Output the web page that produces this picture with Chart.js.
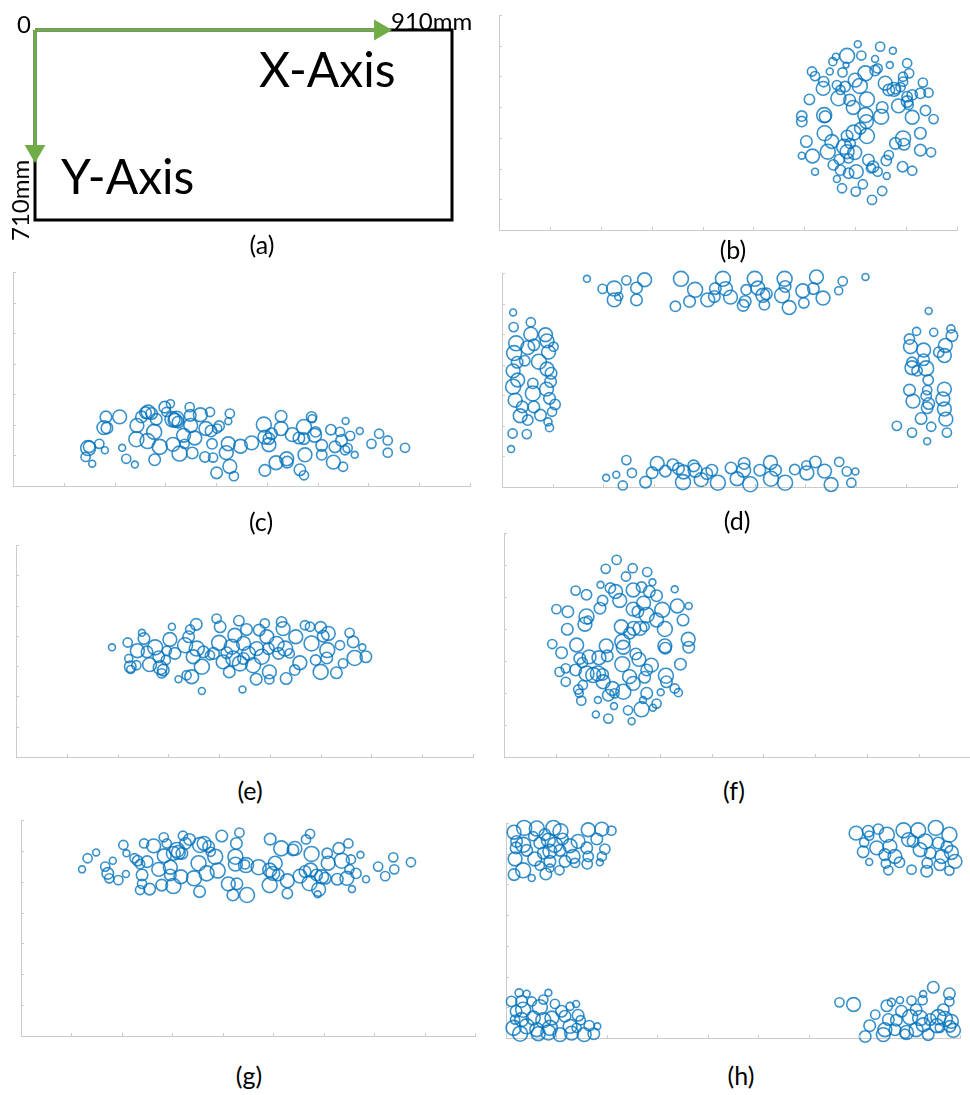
<!DOCTYPE html>
<html>
<head>
<meta charset="utf-8">
<title>Board positions (a)–(h)</title>
<script src="https://cdn.jsdelivr.net/npm/chart.js@4.4.1/dist/chart.umd.min.js"></script>
<style>
  html, body { margin: 0; padding: 0; background: #fff; }
  body { position: relative; width: 970px; height: 1095px; overflow: hidden; font-family: Lato, "Open Sans", sans-serif; color: #000; }
  canvas { position: absolute; }
  .txt { position: absolute; white-space: nowrap; line-height: 1; }
  .cap { position: absolute; width: 100px; text-align: center; font-size: 25px; line-height: 25px; }
</style>
</head>
<body>

<!-- (a) board diagram -->
<canvas id="pa" width="480" height="260" style="left:0px;top:0px"></canvas>
<div class="txt" style="left:17px;top:12px;font-size:24px">0</div>
<div class="txt" style="left:391px;top:9px;font-size:24px">910mm</div>
<div class="txt" style="left:259px;top:45px;font-size:48px">X-Axis</div>
<div class="txt" style="left:61px;top:152px;font-size:48px">Y-Axis</div>
<div class="txt" style="left:8px;top:241px;font-size:24px;transform:rotate(-90deg);transform-origin:0 0">710mm</div>

<!-- (b)–(h) bubble panels -->
<canvas id="pb" width="478" height="235" style="left:489px;top:5px"></canvas>
<canvas id="pc" width="477" height="234" style="left:3px;top:262px"></canvas>
<canvas id="pd" width="475" height="234" style="left:492px;top:263px"></canvas>
<canvas id="pe" width="477" height="232" style="left:6px;top:535px"></canvas>
<canvas id="pf" width="487" height="244" style="left:494px;top:523px"></canvas>
<canvas id="pg" width="474" height="236" style="left:11px;top:810px"></canvas>
<canvas id="ph" width="474" height="235" style="left:496px;top:813px"></canvas>

<div class="cap" style="left:212px;top:232px">(a)</div>
<div class="cap" style="left:683px;top:237px">(b)</div>
<div class="cap" style="left:211px;top:509px">(c)</div>
<div class="cap" style="left:687px;top:508px">(d)</div>
<div class="cap" style="left:200px;top:778px">(e)</div>
<div class="cap" style="left:684px;top:778px">(f)</div>
<div class="cap" style="left:199px;top:1063px">(g)</div>
<div class="cap" style="left:691px;top:1063px">(h)</div>

<script>
// Board size in mm (diagram a)
const BOARD_W = 910;
const BOARD_H = 710;
// Length of the drawn axis arrows along each edge, in mm
const ARROW_X_END = 753;
const ARROW_Y_END = 452;

// Axis ticks shared by the bubble panels (mm)
const X_TICKS = [0, 100, 200, 300, 400, 500, 600, 700, 800, 900];
const Y_TICKS = [0, 100, 200, 300, 400, 500, 600, 700];

// (b) cluster at the right
const bX = [705,749,774,662,684,712,739,656,768,802,682,615,621,650,675,720,739,744,794,806,638,637,664,700,709,759,776,789,794,833,844,610,671,680,667,689,723,766,779,802,812,828,696,753,785,802,805,838,595,595,639,641,720,722,751,812,854,710,697,640,723,684,828,604,654,678,690,779,794,796,646,684,699,828,849,595,616,657,669,687,726,761,766,735,744,793,812,621,671,687,702,762,664,674,715,701,753,733,731];
const bY = [605,597,584,564,567,568,557,548,537,543,537,516,501,516,513,510,519,526,499,510,483,461,472,488,469,478,458,465,483,480,447,425,456,467,429,423,425,456,458,434,440,445,399,399,404,418,407,389,371,353,374,369,374,353,369,367,361,331,317,315,306,306,315,288,288,271,282,282,298,279,255,255,252,260,253,242,241,212,230,233,228,226,244,206,190,206,193,190,195,185,190,176,166,136,149,125,127,98,201];
const bR = [3,4,3,3,6.5,4,3,3.5,3,4,2.5,4,4,3,4,6.5,4.5,4,4,4,4.5,6,4,6,6.5,6,6,4,4,4,4,4.5,4,4.5,6.5,5,6.5,5,4,4.5,4.5,4.5,6,5,6,5,4,4.5,4.5,4.5,6.5,5,6.5,6,6.5,6,4,5,6.5,6.5,6.5,5,5,5,6,6.5,4.5,5,6.5,5,6.5,6,6,5,4,3,6,4.5,4.5,4,5,4.5,4,5,4,4.5,4,3,4.5,4.5,6,3,3,4,4,4,4,4,4];

// (c) band along the bottom
const cX = [143,148,150,156,170,181,183,179,185,210,215,223,240,243,244,253,261,266,273,265,278,279,282,289,299,302,310,314,319,322,325,315,328,336,338,348,349,350,353,358,369,378,380,388,390,392,394,402,406,401,424,427,424,420,427,435,448,470,494,496,496,504,504,509,518,528,528,539,540,550,563,565,573,573,575,573,588,589,594,596,608,608,626,631,634,644,647,650,654,655,664,673,683,706,721,738,738,772,659];
const cY = [95,124,128,73,138,117,226,191,190,226,125,89,70,153,198,226,240,242,237,147,177,86,218,128,258,242,269,218,215,220,209,136,106,166,138,258,231,198,108,157,233,95,188,242,180,138,93,188,196,43,212,237,138,109,64,32,130,141,201,160,51,135,155,171,76,188,228,89,78,168,157,53,35,193,102,155,226,220,166,177,133,102,184,78,128,177,149,63,117,213,164,102,180,138,171,149,109,125,124];
const cR = [4,6.5,5,3,4,3,5,6,5,6,3,4,3,6.5,6,5,5,6,5,6.5,6.5,5,5,6.5,5,4,3.5,6.5,6,6.5,5,6,6.5,6,4,4,5,6,5,6,6,4.5,6,4,5,4.5,4,4,4.5,5,3,4,6,6,6,4,6,6,6.5,6,5,6,5,5,6,6,5,6,5,6,5,5,4,6.5,6,5,4.5,3.5,6,4.5,5,4.5,4.5,6,5,4,5,4,4,3,4,3,3,4,4,4,4,4,4];

// (d) ring along the four edges
const dX = [168,199,222,222,231,246,266,266,282,343,354,371,382,407,420,422,437,442,452,477,481,483,500,506,516,519,523,554,559,560,568,597,595,616,622,635,666,674,719,
  22,23,57,57,28,24,30,45,51,63,73,86,89,92,102,22,31,22,61,61,89,97,96,88,26,40,36,63,76,94,105,99,51,91,94,21,49,18,
  844,820,854,888,890,806,808,834,834,864,877,875,811,811,821,839,843,841,839,806,813,844,841,875,872,875,878,829,781,811,849,880,841,
  206,226,239,246,257,284,297,307,323,338,349,358,359,379,382,394,405,415,427,453,465,479,478,491,510,531,532,541,560,579,602,603,620,638,651,667,682,699,691];
const dY = [681,648,649,612,623,676,651,612,678,591,681,607,645,612,623,649,681,649,621,594,607,645,681,651,627,596,632,627,681,656,587,602,642,649,687,618,642,673,687,
  571,523,539,500,470,438,408,413,456,465,410,498,478,441,459,380,350,328,339,306,386,372,345,320,284,262,233,262,235,290,270,246,219,213,194,175,173,124,
  576,509,506,517,495,484,459,448,416,441,463,430,408,390,380,388,350,317,298,317,281,273,259,320,288,255,222,224,200,178,197,178,150,
  30,40,5,88,46,16,47,77,52,73,60,16,49,69,55,24,44,55,14,62,27,77,55,9,55,80,27,55,14,57,71,46,82,52,8,82,51,51,14];
const dR = [3,4,6.5,6,3.5,4,5,5,6,4.5,6.5,5,6.5,6,5,5,6.5,6,6,5,5,4.5,6.5,6,6,4.5,5,6.5,6.5,5,6,4.5,6,5,6,6,3.5,4,3,
  3,4,4,6,6.5,6.5,5,4.5,6,5,6.5,6,6,6,4,6,6,6.5,4.5,6.5,6,5,5,6,6,5,6,5,5,5,4.5,4,4.5,3.5,3.5,4,4,3,
  3,3.5,3.5,3.5,5,4.5,6,6,5,4.5,6,6,4.5,6,4.5,6.5,4.5,4,4.5,5,6,5,5,6,6,6,6,5,4,4,4,4,3,
  3,3,4,4,4,5,5,6,5,5,5,6.5,6,5,6,6,5,5,6.5,5,6,5,6,6.5,5,6,6.5,5,6.5,4.5,4,6,5,6,6,4,4,3,4];

// (e) band across the middle
const eX = [189,220,222,225,226,237,239,248,252,258,263,274,281,284,287,290,295,297,303,307,313,320,333,336,340,343,346,349,355,356,366,366,369,382,389,395,402,400,408,415,420,425,431,439,441,446,448,454,458,467,474,473,479,484,490,494,497,499,499,513,517,523,526,530,532,539,549,551,559,569,579,582,590,600,600,605,615,613,612,631,638,644,657,664,667,682,689,428,448];
const eY = [362,378,325,298,289,303,351,410,391,347,305,362,331,295,276,287,320,351,388,430,342,257,369,270,397,421,265,331,438,358,218,298,347,336,342,457,430,377,314,344,281,364,402,450,309,223,375,421,342,303,358,257,419,331,441,397,358,281,256,373,342,446,424,358,259,342,287,397,311,435,430,375,320,428,281,399,408,353,327,278,369,309,410,380,327,362,331,325,325];
const eR = [3,4,3.5,5,3.5,4,6,3,5,5,6,6.5,5,6,4,5,4,4,6,3,5,3,6.5,4,5,4,6,6,5,6.5,3,6.5,5,4,5,4,5,6.5,6,5,5,6.5,6,4.5,6.5,3,6,5,6,6.5,6,5,5,6.5,4,6,5,6,4,6.5,5,4.5,6,6.5,5,4,4.5,6,6,4,4,6.5,4.5,5,6.5,5,6,6.5,5,5,4,4,4,5,6.5,3,5,6.5,5];

// (f) cluster at the left
const fX = [217,196,248,276,235,286,186,138,159,205,215,223,249,265,280,294,329,190,185,101,123,159,156,162,249,258,269,275,294,305,334,356,345,122,226,242,250,262,271,310,355,356,93,111,140,197,228,230,254,310,311,146,151,164,183,199,228,260,284,340,107,119,138,159,172,181,190,119,143,152,191,209,213,230,242,249,271,275,312,313,329,336,145,149,181,201,212,239,265,268,275,287,294,302,177,201,246];
const fY = [616,588,590,578,564,546,538,520,507,528,517,489,522,531,517,504,524,489,465,462,454,439,415,428,462,454,481,444,428,460,472,472,428,399,407,387,402,402,407,400,368,343,353,326,350,347,360,343,322,347,340,308,295,313,310,316,290,305,287,290,266,277,272,261,256,261,258,235,211,225,235,214,199,204,251,230,249,272,254,235,214,201,199,176,178,193,159,146,149,178,199,154,167,202,133,120,112];
const fR = [4,4,4,4,4,3,3,4,4.5,4.5,6,6,6,4.5,5,5,3,4.5,5,4,5,6.5,6,3.5,6,5,6,6.5,6,6.5,6,3,5,5,6,5,6,6,4,6.5,6,5,4,5,6,6,6.5,6,5,6,5,5,4.5,6,6,5,6.5,6,6,5,4,4,5,6.5,6.5,6.5,5,4,4,4,6,6,4,6.5,6,6,5,5,6.5,5,4,3.5,3.5,4,3,5,3,4,6.5,3,5,3,4,3,3,4,3];

// (g) band along the top
const gX = [121,132,149,167,172,175,182,193,203,208,209,225,231,236,240,240,236,244,250,255,263,273,279,283,284,289,296,296,302,302,309,312,319,317,321,326,334,343,352,354,355,363,368,372,376,385,390,398,411,420,425,427,425,428,433,446,448,471,493,494,493,499,504,510,516,528,528,539,543,553,563,565,572,573,576,574,586,590,588,596,603,607,609,627,630,636,646,649,651,654,656,664,673,684,708,722,738,740,773,444];
const gY = [540,576,595,549,527,511,568,505,619,525,592,576,568,557,522,493,473,624,565,476,616,540,489,644,584,624,547,522,486,592,603,595,592,516,649,624,637,511,560,468,619,624,527,614,597,581,536,648,493,457,581,624,557,493,659,554,457,547,489,638,538,527,560,522,608,503,462,603,608,518,533,637,495,655,590,538,522,475,459,516,511,592,560,508,608,568,511,624,540,572,476,527,587,508,549,518,579,540,563,556];
const gR = [3,4,3,4,5,4,3,4,4,3,3,4,4.5,4,5,4,4,4,5,5,6,6,5,4,6,4,6,5,6.5,6,6.5,6,5,6,4,5,5,6.5,6.5,5,6.5,6,6.5,5,4,6.5,6.5,5,6,5,6.5,5,6,5,4,6.5,6.5,6.5,6.5,5,6,6,6,5,6.5,6,4.5,5,6,6,5,4,6.5,4,6.5,6,5,6,3,6,5,4.5,6,5,5,6.5,6,4,4,4,3,4.5,3,3,4,4,4,4,4,4];

// (h) four corner clusters
const hX = [16,36,61,77,94,108,163,190,209,21,34,54,67,84,97,112,127,143,180,20,18,41,57,74,87,107,133,160,163,196,190,87,67,34,16,51,79,87,106,117,137,161,186,
  694,718,720,738,755,788,817,852,879,710,735,761,798,807,831,857,874,708,751,771,821,841,864,883,890,720,753,780,804,834,835,860,879,758,
  11,26,41,84,31,51,74,97,127,139,20,34,67,110,143,18,31,54,74,91,117,148,15,41,61,87,127,140,165,181,28,64,84,107,130,155,174,
  661,689,847,879,827,755,764,781,804,826,879,732,784,813,867,721,758,774,801,821,841,857,870,883,751,771,794,813,827,854,880,887,712,748,791,837,860];
const hY = [670,684,682,662,684,673,678,680,675,640,629,657,635,644,629,648,626,640,648,619,583,611,583,602,608,611,591,619,591,615,591,575,561,546,532,521,534,553,546,575,570,567,572,
  667,673,659,680,662,676,676,684,662,637,619,624,646,640,640,635,622,606,597,591,613,602,591,604,575,573,568,572,548,543,570,564,545,546,
  119,147,144,147,119,119,125,111,103,111,87,92,100,87,74,60,60,65,58,65,71,58,33,38,27,33,38,33,40,38,14,14,18,11,16,11,14,
  116,109,165,144,143,105,116,123,122,123,119,76,87,92,92,40,60,58,68,65,60,68,62,54,27,27,18,27,43,40,38,25,5,11,14,11,33];
const hR = [6,6.5,6.5,5,6.5,6.5,6,6,4,5,6.5,4,5,6,6.5,5,6,6,5,5,6,5,6,5,6,5,6,5,4.5,4.5,4,5,4,6.5,5,3,5,3.5,4,5,4,4.5,3,
  6,5,4,4.5,6.5,6.5,6.5,6.5,6.5,4,6,6,6,5,6.5,5,5,5,5,6,6,5,6,6,6,3,4,4.5,4,5,4.5,5,4,4,
  4.5,3.5,3,3,5,4,4,4,3.5,3,5,6.5,6.5,5,5,4,6,6,6.5,6,5,4,6.5,6.5,6,6.5,6,4,4.5,3,6.5,6,6.5,6,6,6,5,
  4,6,5,5,3,5,3.5,3,4,4,4,4,5,5,5,5,5,5,6.5,6.5,5,6.5,6.5,6,6,5,6,6,6,6,5,6,5,6,4,5,4];

// ---- styling ----
const BUBBLE_EDGE = 'rgba(0,114,189,0.78)';
const BUBBLE_SCALE = 1.15;   // pixel radius per unit of the size arrays
const AXIS_GREY = '#cbcbcb';
const ARROW_GREEN = '#70AD47';
const PAD = 10;

// Short tick marks pointing into the plot area
const innerTicks = {
  id: 'innerTicks',
  afterDraw(chart, args, opts) {
    const { ctx, chartArea: a, scales: { x, y } } = chart;
    ctx.save();
    ctx.strokeStyle = opts.color;
    ctx.lineWidth = 1;
    ctx.beginPath();
    x.ticks.forEach(t => {
      const px = Math.round(x.getPixelForValue(t.value)) + 0.5;
      ctx.moveTo(px, a.bottom);
      ctx.lineTo(px, a.bottom - opts.length);
    });
    y.ticks.forEach(t => {
      const py = Math.round(y.getPixelForValue(t.value)) + 0.5;
      ctx.moveTo(a.left, py);
      ctx.lineTo(a.left + opts.length, py);
    });
    ctx.stroke();
    ctx.restore();
  }
};

function axis(max, ticks) {
  return {
    type: 'linear',
    min: 0,
    max: max,
    afterBuildTicks: s => { s.ticks = ticks.map(v => ({ value: v })); },
    ticks: { display: false },
    grid: { display: false, drawTicks: false },
    border: { display: true, color: AXIS_GREY, width: 1 }
  };
}

function bubblePanel(id, xs, ys, rs) {
  const points = xs.map((x, i) => ({ x: x, y: ys[i], r: rs[i] * BUBBLE_SCALE }));
  new Chart(document.getElementById(id), {
    type: 'bubble',
    data: {
      datasets: [{
        data: points,
        backgroundColor: 'rgba(0,0,0,0)',
        borderColor: BUBBLE_EDGE,
        borderWidth: 1.6,
        clip: false
      }]
    },
    options: {
      responsive: false,
      animation: false,
      events: [],
      layout: { padding: PAD },
      plugins: {
        legend: { display: false },
        tooltip: { enabled: false },
        innerTicks: { color: AXIS_GREY, length: 3 }
      },
      scales: {
        x: axis(X_TICKS[X_TICKS.length - 1], X_TICKS),
        y: axis(Y_TICKS[Y_TICKS.length - 1], Y_TICKS)
      }
    },
    plugins: [innerTicks]
  });
}

bubblePanel('pb', bX, bY, bR);
bubblePanel('pc', cX, cY, cR);
bubblePanel('pd', dX, dY, dR);
bubblePanel('pe', eX, eY, eR);
bubblePanel('pf', fX, fY, fR);
bubblePanel('pg', gX, gY, gR);
bubblePanel('ph', hX, hY, hR);

// ---- (a) board outline with the two axis arrows ----
new Chart(document.getElementById('pa'), {
  type: 'scatter',
  data: {
    datasets: [
      {
        // board outline
        data: [{ x: 0, y: 0 }, { x: BOARD_W, y: 0 }, { x: BOARD_W, y: BOARD_H }, { x: 0, y: BOARD_H }, { x: 0, y: 0 }],
        showLine: true,
        borderColor: '#000',
        borderWidth: 3,
        borderJoinStyle: 'miter',
        pointRadius: 0,
        fill: false,
        clip: false,
        order: 2
      },
      {
        // X arrow
        data: [{ x: 0, y: 0 }, { x: ARROW_X_END, y: 0 }],
        showLine: true,
        borderColor: ARROW_GREEN,
        borderWidth: 3,
        pointRadius: [0, 12],
        pointStyle: 'triangle',
        rotation: 90,
        pointBackgroundColor: ARROW_GREEN,
        pointBorderColor: ARROW_GREEN,
        pointBorderWidth: 0,
        clip: false,
        order: 1
      },
      {
        // Y arrow
        data: [{ x: 0, y: 0 }, { x: 0, y: ARROW_Y_END }],
        showLine: true,
        borderColor: ARROW_GREEN,
        borderWidth: 3,
        pointRadius: [0, 12],
        pointStyle: 'triangle',
        rotation: 180,
        pointBackgroundColor: ARROW_GREEN,
        pointBorderColor: ARROW_GREEN,
        pointBorderWidth: 0,
        clip: false,
        order: 0
      }
    ]
  },
  options: {
    responsive: false,
    animation: false,
    events: [],
    layout: { padding: { left: 35, top: 30, right: 28, bottom: 40 } },
    plugins: { legend: { display: false }, tooltip: { enabled: false } },
    scales: {
      x: { type: 'linear', min: 0, max: BOARD_W, display: false },
      y: { type: 'linear', min: 0, max: BOARD_H, reverse: true, display: false }
    }
  }
});
</script>
</body>
</html>
